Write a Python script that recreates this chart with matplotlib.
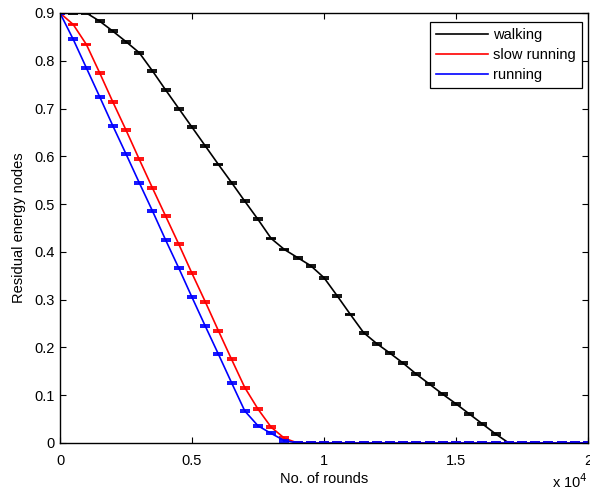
"""Residual energy of nodes versus number of rounds, per mobility pattern."""
import matplotlib
matplotlib.use("Agg")

import matplotlib.pyplot as plt

plt.rcParams['font.family'] = ['Liberation Sans', 'DejaVu Sans']

# rounds sampled every 500, from 0 to 20000
ROUNDS = list(range(0, 20001, 500))

WALKING = [0.900, 0.900, 0.900, 0.883, 0.862, 0.840, 0.817, 0.779, 0.739,
           0.700, 0.661, 0.622, 0.583, 0.545, 0.506, 0.468, 0.428, 0.405,
           0.388, 0.371, 0.346, 0.308, 0.269, 0.231, 0.208, 0.188, 0.167,
           0.144, 0.123, 0.102, 0.082, 0.061, 0.040, 0.019, 0.000, 0.000,
           0.000, 0.000, 0.000, 0.000, 0.000]
SLOW_RUNNING = [0.900, 0.876, 0.834, 0.775, 0.714, 0.655, 0.594, 0.534,
                0.475, 0.416, 0.355, 0.296, 0.235, 0.175, 0.116, 0.071,
                0.033, 0.010, 0.000, 0.000, 0.000, 0.000, 0.000, 0.000,
                0.000, 0.000, 0.000, 0.000, 0.000, 0.000, 0.000, 0.000,
                0.000, 0.000, 0.000, 0.000, 0.000, 0.000, 0.000, 0.000,
                0.000]
RUNNING = [0.900, 0.845, 0.785, 0.725, 0.664, 0.605, 0.545, 0.486, 0.425,
           0.366, 0.305, 0.245, 0.186, 0.126, 0.067, 0.036, 0.020, 0.005,
           0.000, 0.000, 0.000, 0.000, 0.000, 0.000, 0.000, 0.000, 0.000,
           0.000, 0.000, 0.000, 0.000, 0.000, 0.000, 0.000, 0.000, 0.000,
           0.000, 0.000, 0.000, 0.000, 0.000]
ERR = [0.002] * len(ROUNDS)

SERIES = [('walking', WALKING, 'black'),
          ('slow running', SLOW_RUNNING, 'red'),
          ('running', RUNNING, 'blue')]

X_TICKS = [0, 5000, 10000, 15000, 20000]
X_TICK_LABELS = ['0', '0.5', '1', '1.5', '2']
Y_TICKS = [0, 0.1, 0.2, 0.3, 0.4, 0.5, 0.6, 0.7, 0.8, 0.9]


def draw():
  fig = plt.figure(figsize=(5.9, 4.95), dpi=100)
  axs = fig.add_axes([60 / 590., 52 / 495., 528 / 590., 430 / 495.])

  handles = []
  for name, values, color in SERIES:
    line, = axs.plot(ROUNDS, values, color=color, lw=1.2, label=name)
    axs.errorbar(ROUNDS, values, yerr=ERR, fmt='none', ecolor=color,
                 elinewidth=1.2, capsize=3.6, capthick=1.3)
    handles.append(line)

  axs.set_xlim(0, 20000)
  axs.set_ylim(0, 0.9)
  axs.set_xticks(X_TICKS)
  axs.set_xticklabels(X_TICK_LABELS)
  axs.set_yticks(Y_TICKS)
  axs.set_yticklabels(['0'] + ['%.1f' % v for v in Y_TICKS[1:]])
  axs.tick_params(direction='in', top=True, right=True, length=4,
                  labelsize=10.5, width=0.8)
  axs.tick_params(axis='x', pad=8)
  axs.tick_params(axis='y', pad=4)
  for spine in axs.spines.values():
    spine.set_linewidth(1.0)

  axs.set_xlabel('No. of rounds', fontsize=10.5, labelpad=3)
  axs.set_ylabel('Residual energy nodes', fontsize=10.5, labelpad=6)
  fig.text(552 / 590., 1 - 482 / 495., 'x 10$^4$', fontsize=10.5,
           ha='left', va='center')

  leg = axs.legend(handles=handles, loc='upper right', fontsize=10.5,
                   fancybox=False, edgecolor='black', framealpha=1,
                   handlelength=3.6, handletextpad=0.35,
                   bbox_to_anchor=(1 - 6 / 528., 1 - 9 / 430.),
                   borderaxespad=0, labelspacing=0.42, borderpad=0.4)
  leg.get_frame().set_linewidth(0.9)

  fig.savefig('out.png', dpi=100)
  plt.close(fig)


if __name__ == '__main__':
  draw()
